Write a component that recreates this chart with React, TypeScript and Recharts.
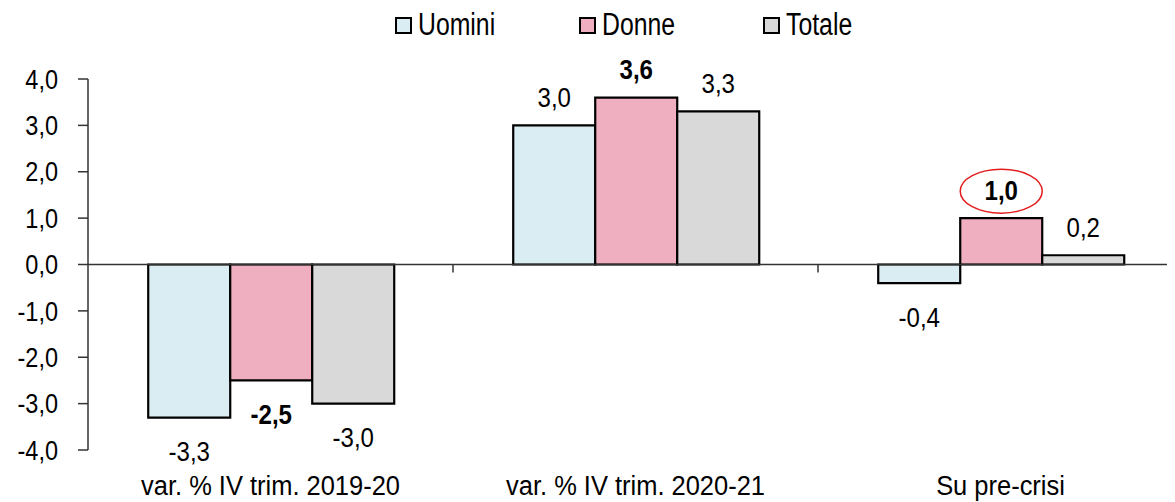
import { Bar, BarChart, XAxis, YAxis, ReferenceLine, Legend, LabelList } from "recharts";

const categories = ["var. % IV trim. 2019-20", "var. % IV trim. 2020-21", "Su pre-crisi"];
const uomini = [-3.3, 3.0, -0.4];
const donne = [-2.5, 3.6, 1.0];
const totale = [-3.0, 3.3, 0.2];
const yTicks = [-4, -3, -2, -1, 0, 1, 2, 3, 4];
const circledCategory = "Su pre-crisi";

const series = [
  { key: "uomini", name: "Uomini", color: "#DAEDF3", bold: false },
  { key: "donne", name: "Donne", color: "#F0AFC0", bold: true },
  { key: "totale", name: "Totale", color: "#D9D9D9", bold: false },
];

const data = categories.map((c, i) => ({
  name: c,
  uomini: uomini[i],
  donne: donne[i],
  totale: totale[i],
}));

const FONT = "'Liberation Sans', Arial, sans-serif";
const fmt = (v: number) => v.toFixed(1).replace(".", ",");

const makeLabel = (bold: boolean, circle: boolean) => (props: any) => {
  const { x, y, width, height, value, index } = props;
  const top = Math.min(y, y + height);
  const bottom = Math.max(y, y + height);
  const cx = x + width / 2;
  const cy = value >= 0 ? top - 28 : bottom + 34;
  return (
    <g>
      <text
        transform={`translate(${cx},${cy}) scale(0.86,1)`}
        textAnchor="middle"
        dominantBaseline="central"
        fontSize={28}
        fontFamily={FONT}
        fontWeight={bold ? "bold" : "normal"}
        fill="#000"
      >
        {fmt(value)}
      </text>
      {circle && categories[index] === circledCategory && (
        <ellipse cx={cx} cy={cy + 1} rx={41} ry={22} fill="none" stroke="#E41E1E" strokeWidth={1.5} />
      )}
    </g>
  );
};

const ZeroLine = (props: any) => {
  const { x1, y1, x2 } = props;
  const n = categories.length;
  const step = (x2 - x1) / n;
  const ticks = [];
  for (let i = 1; i < n; i++) {
    const tx = x1 + i * step;
    ticks.push(<line key={i} x1={tx} x2={tx} y1={y1} y2={y1 + 8} stroke="#333" strokeWidth={1.5} />);
  }
  return (
    <g>
      <line x1={x1} x2={x2} y1={y1} y2={y1} stroke="#333" strokeWidth={1.5} />
      {ticks}
    </g>
  );
};

const CatTick = (props: any) => {
  const { x, payload } = props;
  return (
    <text
      transform={`translate(${x},478) scale(0.91,1)`}
      textAnchor="middle"
      dominantBaseline="central"
      fontSize={28}
      fontFamily={FONT}
      fill="#000"
    >
      {payload.value}
    </text>
  );
};

const ValTick = (props: any) => {
  const { x, y, payload } = props;
  return (
    <text
      transform={`translate(${x},${y}) scale(0.84,1)`}
      textAnchor="end"
      dominantBaseline="central"
      fontSize={28}
      fontFamily={FONT}
      fill="#000"
    >
      {fmt(payload.value)}
    </text>
  );
};

const LegendBox = () => (
  <div style={{ height: 71, display: "flex", alignItems: "flex-start", paddingLeft: 387, fontFamily: FONT, fontSize: 31, color: "#000" }}>
    {series.map((s, i) => (
      <div key={s.key} style={{ display: "flex", alignItems: "center", width: i < series.length - 1 ? 184 : 120, height: 34 }}>
        <span style={{ width: 13, height: 13, background: s.color, border: "2px solid #000", marginRight: 6, display: "inline-block", flex: "none" }} />
        <span style={{ lineHeight: "34px", display: "inline-block", transform: "scaleX(0.8)", transformOrigin: "left center", whiteSpace: "nowrap" }}>{s.name}</span>
      </div>
    ))}
  </div>
);

function App() {
  return (
    <div style={{ width: 1167, height: 494, overflow: "hidden" }}>
      <BarChart
        width={1180}
        height={494}
        data={data}
        margin={{ top: 0, right: 5, left: 0, bottom: 0 }}
        barCategoryGap="16.5%"
        barGap={0}
      >
        <Legend verticalAlign="top" content={<LegendBox />} />
        <XAxis dataKey="name" axisLine={false} tickLine={false} height={52} tick={<CatTick />} interval={0} />
        <YAxis
          type="number"
          domain={[-4, 4]}
          ticks={yTicks}
          width={80}
          tickSize={10}
          tickMargin={20}
          stroke="#333"
          axisLine={{ stroke: "#333", strokeWidth: 1.5 }}
          tickLine={{ stroke: "#333", strokeWidth: 1.5 }}
          tick={<ValTick />}
        />
        {series.map((s) => (
          <Bar key={s.key} dataKey={s.key} name={s.name} fill={s.color} stroke="#000" strokeWidth={2.2} isAnimationActive={false}>
            <LabelList dataKey={s.key} content={makeLabel(s.bold, s.key === "donne")} />
          </Bar>
        ))}
        <ReferenceLine y={0} shape={<ZeroLine />} />
      </BarChart>
    </div>
  );
}

export default App;
